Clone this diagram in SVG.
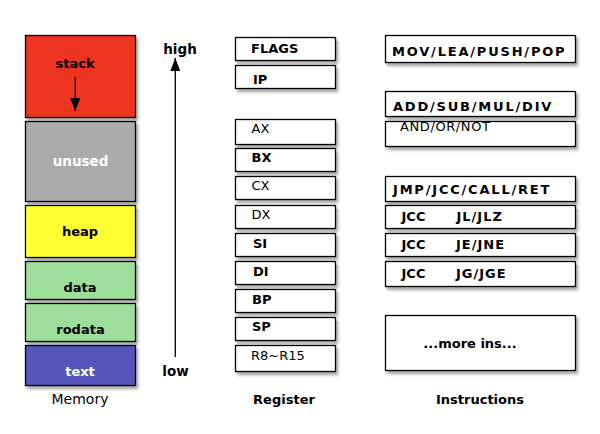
<svg xmlns="http://www.w3.org/2000/svg" width="600" height="434" viewBox="0 0 600 434">
<defs>
<filter id="sh" x="-10%" y="-10%" width="130%" height="140%">
<feDropShadow dx="2" dy="3" stdDeviation="1.5" flood-color="#000" flood-opacity="0.35"/>
</filter>
<marker id="ah" markerWidth="13" markerHeight="10" refX="13" refY="5" orient="auto" markerUnits="userSpaceOnUse" viewBox="0 0 13 10">
<path d="M0,0 L13,5 L0,10 Z" fill="#000"/>
</marker>
</defs>
<style>
.box{stroke:#000;stroke-width:1.3;filter:url(#sh)}
.w{fill:#fff}
.t{font-family:"DejaVu Sans",Verdana,sans-serif;font-size:13px;font-weight:bold;fill:#000}
.tn{font-family:"DejaVu Sans",Verdana,sans-serif;font-size:13px;font-weight:normal;fill:#000}
.c{text-anchor:middle}
.ins{letter-spacing:1.8px}
.lab{font-family:"DejaVu Sans",Verdana,sans-serif;font-size:13px;font-weight:bold;fill:#000;text-anchor:middle}
</style>
<rect width="600" height="434" fill="#fff"/>

<g id="memory">
<g id="stack"><rect class="box" x="25.5" y="35.5" width="110" height="82" fill="#ee3524"/><text class="t c" x="75" y="68">stack</text></g>
<g id="unused"><rect class="box" x="25.5" y="121.5" width="110" height="80" fill="#aaaaaa"/><text class="t c" x="80.5" y="166" style="fill:#fff;font-size:13.5px">unused</text></g>
<g id="heap"><rect class="box" x="25.5" y="205.5" width="110" height="52" fill="#ffff33"/><text class="t c" x="80" y="236">heap</text></g>
<g id="data"><rect class="box" x="25.5" y="261.5" width="110" height="38" fill="#9ddf9a"/><text class="t c" x="80" y="292">data</text></g>
<g id="rodata"><rect class="box" x="25.5" y="303.5" width="110" height="38" fill="#9ddf9a"/><text class="t c" x="80.5" y="334">rodata</text></g>
<g id="text"><rect class="box" x="25.5" y="345.5" width="110" height="40" fill="#5555bb"/><text class="t c" x="80" y="376" style="fill:#fff">text</text></g>
<text class="lab" x="80" y="404" style="font-weight:normal;font-size:14px">Memory</text>
</g>

<g id="axis">
<text class="t c" x="180" y="54" style="font-size:13.5px">high</text>
<text class="t c" x="175.5" y="376" style="font-size:13.5px">low</text>
</g>

<g id="registers">
<g id="r-flags"><rect class="box w" x="235.5" y="37.5" width="100" height="23"/><text class="t" x="251" y="52.5">FLAGS</text></g>
<g id="r-ip"><rect class="box w" x="235.5" y="65.5" width="100" height="23"/><text class="t" x="253" y="83.5">IP</text></g>
<g id="r-ax"><rect class="box w" x="235.5" y="119.5" width="100" height="25"/><text class="tn" x="251.5" y="132.5">AX</text></g>
<g id="r-bx"><rect class="box w" x="235.5" y="148.5" width="100" height="23"/><text class="t" x="251.5" y="162">BX</text></g>
<g id="r-cx"><rect class="box w" x="235.5" y="176.5" width="100" height="23"/><text class="tn" x="251.5" y="189.5">CX</text></g>
<g id="r-dx"><rect class="box w" x="235.5" y="205.5" width="100" height="23"/><text class="tn" x="251.5" y="219">DX</text></g>
<g id="r-si"><rect class="box w" x="235.5" y="233.5" width="100" height="23"/><text class="t" x="253" y="247.5">SI</text></g>
<g id="r-di"><rect class="box w" x="235.5" y="261.5" width="100" height="23"/><text class="t" x="253" y="275.5">DI</text></g>
<g id="r-bp"><rect class="box w" x="235.5" y="289.5" width="100" height="23"/><text class="t" x="252" y="303.5">BP</text></g>
<g id="r-sp"><rect class="box w" x="235.5" y="317.5" width="100" height="23"/><text class="t" x="252" y="331">SP</text></g>
<g id="r-r8"><rect class="box w" x="235.5" y="345.5" width="100" height="26"/><text class="tn" x="251" y="359.5">R8~R15</text></g>
<text class="lab" x="284" y="404">Register</text>
</g>

<g id="instructions">
<g id="i-mov"><rect class="box w" x="385.5" y="35.5" width="190" height="27"/><text class="t ins" x="392" y="55.5">MOV/LEA/PUSH/POP</text></g>
<g id="i-add"><rect class="box w" x="385.5" y="91.5" width="190" height="25"/><text class="t ins" x="393" y="110.5">ADD/SUB/MUL/DIV</text></g>
<g id="i-and"><rect class="box w" x="385.5" y="121.5" width="190" height="25"/><text class="tn" x="400" y="131" style="letter-spacing:0.6px">AND/OR/NOT</text></g>
<g id="i-jmp"><rect class="box w" x="385.5" y="176.5" width="190" height="25"/><text class="t ins" x="393" y="194">JMP/JCC/CALL/RET</text></g>
<g id="i-jl"><rect class="box w" x="385.5" y="205.5" width="190" height="23"/><text class="t" x="401.5" y="220.5">JCC</text><text class="t" x="456.5" y="220.5" style="letter-spacing:1px">JL/JLZ</text></g>
<g id="i-je"><rect class="box w" x="385.5" y="233.5" width="190" height="23"/><text class="t" x="401.5" y="249">JCC</text><text class="t" x="456" y="249" style="letter-spacing:1px">JE/JNE</text></g>
<g id="i-jg"><rect class="box w" x="385.5" y="261.5" width="190" height="25"/><text class="t" x="401.5" y="277.5">JCC</text><text class="t" x="456" y="277.5" style="letter-spacing:1px">JG/JGE</text></g>
<g id="i-more"><rect class="box w" x="385.5" y="315.5" width="190" height="55"/><text class="t c" x="470" y="348">...more ins...</text></g>
<text class="lab" x="480" y="404">Instructions</text>
</g>

<g id="connectors" stroke="#000" stroke-width="1.3" fill="none">
<line x1="75.3" y1="77" x2="75.3" y2="111" marker-end="url(#ah)"/>
<line x1="175.3" y1="357" x2="175.3" y2="58" marker-end="url(#ah)"/>
</g>
</svg>
